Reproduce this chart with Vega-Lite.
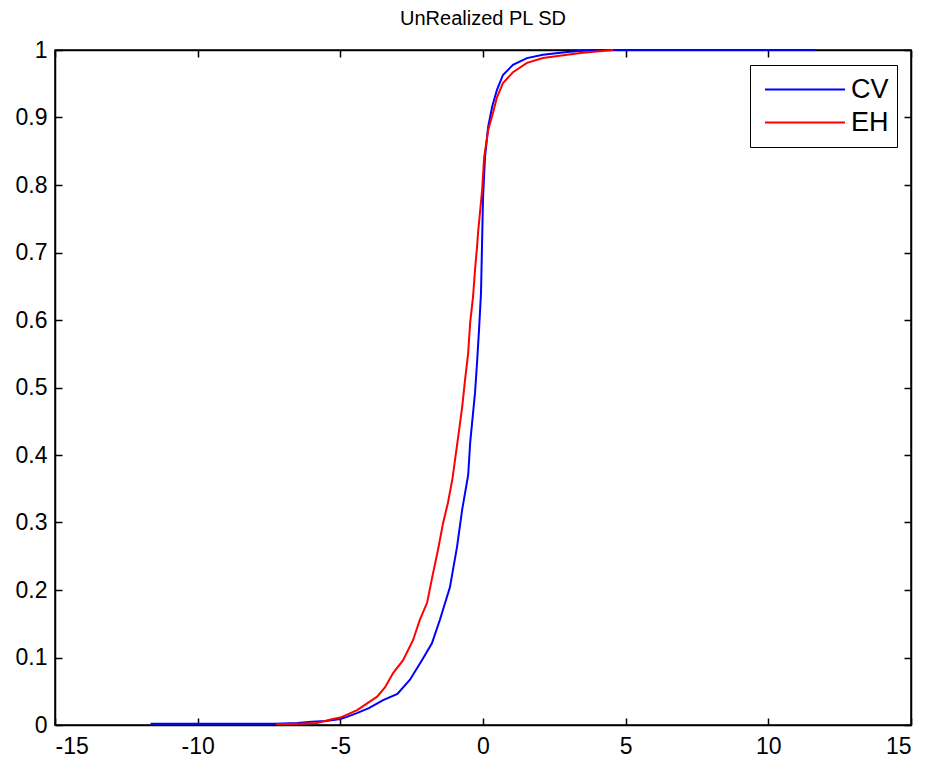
{
  "$schema": "https://vega.github.io/schema/vega-lite/v6.json",
  "width": 856,
  "height": 675,
  "autosize": "none",
  "padding": {"left": 55, "top": 50, "right": 21, "bottom": 38},
  "background": "white",
  "title": {"text": "UnRealized PL SD", "font": "Liberation Sans", "fontSize": 20, "fontWeight": "normal", "color": "black", "anchor": "middle", "offset": 10},
  "config": {
    "view": {"stroke": "black", "strokeWidth": 1.5},
    "axis": {"grid": false, "domainColor": "black", "domainWidth": 1.5, "tickColor": "black", "tickWidth": 1.5, "tickSize": -7, "labelFont": "Liberation Sans", "labelFontSize": 23, "labelColor": "black", "title": null},
    "legend": {"orient": "none", "legendX": 695, "legendY": 15, "strokeColor": "black", "fillColor": "white", "padding": 8, "symbolOffset": 6, "symbolType": "stroke", "symbolSize": 6400, "symbolStrokeWidth": 2, "labelFont": "Liberation Sans", "labelFontSize": 27, "labelColor": "black", "labelOffset": 5, "clipHeight": 33, "rowPadding": 0, "title": null}
  },
  "data": {"values": [
    {"s": "CV", "x": -11.65, "y": 0.002},
    {"s": "CV", "x": -9.0, "y": 0.002},
    {"s": "CV", "x": -7.3, "y": 0.002},
    {"s": "CV", "x": -6.5, "y": 0.003},
    {"s": "CV", "x": -6.0, "y": 0.005},
    {"s": "CV", "x": -5.5, "y": 0.006},
    {"s": "CV", "x": -5.0, "y": 0.009},
    {"s": "CV", "x": -4.77, "y": 0.012},
    {"s": "CV", "x": -4.4, "y": 0.018},
    {"s": "CV", "x": -4.0, "y": 0.025},
    {"s": "CV", "x": -3.5, "y": 0.037},
    {"s": "CV", "x": -3.0, "y": 0.046},
    {"s": "CV", "x": -2.56, "y": 0.067},
    {"s": "CV", "x": -2.14, "y": 0.096},
    {"s": "CV", "x": -1.79, "y": 0.121},
    {"s": "CV", "x": -1.51, "y": 0.156},
    {"s": "CV", "x": -1.16, "y": 0.204},
    {"s": "CV", "x": -0.91, "y": 0.264},
    {"s": "CV", "x": -0.73, "y": 0.319},
    {"s": "CV", "x": -0.52, "y": 0.37},
    {"s": "CV", "x": -0.45, "y": 0.418},
    {"s": "CV", "x": -0.28, "y": 0.492},
    {"s": "CV", "x": -0.21, "y": 0.536},
    {"s": "CV", "x": -0.14, "y": 0.585},
    {"s": "CV", "x": -0.07, "y": 0.64},
    {"s": "CV", "x": -0.03, "y": 0.72},
    {"s": "CV", "x": 0.0, "y": 0.78},
    {"s": "CV", "x": 0.07, "y": 0.841},
    {"s": "CV", "x": 0.18, "y": 0.886},
    {"s": "CV", "x": 0.32, "y": 0.916},
    {"s": "CV", "x": 0.49, "y": 0.941},
    {"s": "CV", "x": 0.7, "y": 0.963},
    {"s": "CV", "x": 1.05, "y": 0.978},
    {"s": "CV", "x": 1.54, "y": 0.988},
    {"s": "CV", "x": 2.1, "y": 0.993},
    {"s": "CV", "x": 2.95, "y": 0.997},
    {"s": "CV", "x": 3.86, "y": 1.0},
    {"s": "CV", "x": 11.65, "y": 1.0},
    {"s": "EH", "x": -7.25, "y": 0.001},
    {"s": "EH", "x": -6.5, "y": 0.002},
    {"s": "EH", "x": -5.82, "y": 0.003},
    {"s": "EH", "x": -5.26, "y": 0.009},
    {"s": "EH", "x": -5.0, "y": 0.011},
    {"s": "EH", "x": -4.41, "y": 0.022},
    {"s": "EH", "x": -4.06, "y": 0.032},
    {"s": "EH", "x": -3.71, "y": 0.042},
    {"s": "EH", "x": -3.43, "y": 0.056},
    {"s": "EH", "x": -3.15, "y": 0.077},
    {"s": "EH", "x": -2.8, "y": 0.096},
    {"s": "EH", "x": -2.45, "y": 0.126},
    {"s": "EH", "x": -2.21, "y": 0.156},
    {"s": "EH", "x": -1.96, "y": 0.181},
    {"s": "EH", "x": -1.75, "y": 0.225},
    {"s": "EH", "x": -1.58, "y": 0.259},
    {"s": "EH", "x": -1.4, "y": 0.299},
    {"s": "EH", "x": -1.23, "y": 0.329},
    {"s": "EH", "x": -1.07, "y": 0.365},
    {"s": "EH", "x": -0.87, "y": 0.427},
    {"s": "EH", "x": -0.73, "y": 0.471},
    {"s": "EH", "x": -0.63, "y": 0.511},
    {"s": "EH", "x": -0.52, "y": 0.551},
    {"s": "EH", "x": -0.45, "y": 0.596},
    {"s": "EH", "x": -0.35, "y": 0.634},
    {"s": "EH", "x": -0.28, "y": 0.674},
    {"s": "EH", "x": -0.21, "y": 0.708},
    {"s": "EH", "x": -0.17, "y": 0.731},
    {"s": "EH", "x": -0.03, "y": 0.793},
    {"s": "EH", "x": 0.04, "y": 0.841},
    {"s": "EH", "x": 0.18, "y": 0.881},
    {"s": "EH", "x": 0.35, "y": 0.907},
    {"s": "EH", "x": 0.49, "y": 0.93},
    {"s": "EH", "x": 0.7, "y": 0.951},
    {"s": "EH", "x": 1.05, "y": 0.967},
    {"s": "EH", "x": 1.54, "y": 0.981},
    {"s": "EH", "x": 2.1, "y": 0.988},
    {"s": "EH", "x": 2.95, "y": 0.993},
    {"s": "EH", "x": 3.5, "y": 0.996},
    {"s": "EH", "x": 4.56, "y": 1.0}
  ]},
  "layer": [
    {
      "mark": {"type": "line", "strokeWidth": 2, "interpolate": "linear"},
      "encoding": {
        "x": {"field": "x", "type": "quantitative", "scale": {"domain": [-15, 15], "nice": false, "zero": false}, "axis": {"orient": "bottom", "values": [-15, -10, -5, 0, 5, 10, 15], "labelExpr": "replace(datum.label, '\u2212', '-')", "labelPadding": 17}},
        "y": {"field": "y", "type": "quantitative", "scale": {"domain": [0, 1], "nice": false}, "axis": {"orient": "left", "values": [0, 0.1, 0.2, 0.3, 0.4, 0.5, 0.6, 0.7, 0.8, 0.9, 1], "format": ".1~f", "labelPadding": 15}},
        "color": {"field": "s", "type": "nominal", "scale": {"domain": ["CV", "EH"], "range": ["#0000ff", "#ff0000"]}},
        "order": {"field": "x", "type": "quantitative"}
      }
    },
    {
      "mark": {"type": "point", "opacity": 0},
      "encoding": {
        "x": {"field": "x", "type": "quantitative", "axis": {"orient": "top", "values": [-15, -10, -5, 0, 5, 10, 15], "labels": false}},
        "y": {"field": "y", "type": "quantitative", "axis": {"orient": "right", "values": [0, 0.1, 0.2, 0.3, 0.4, 0.5, 0.6, 0.7, 0.8, 0.9, 1], "labels": false}}
      }
    }
  ],
  "resolve": {"axis": {"x": "independent", "y": "independent"}}
}
